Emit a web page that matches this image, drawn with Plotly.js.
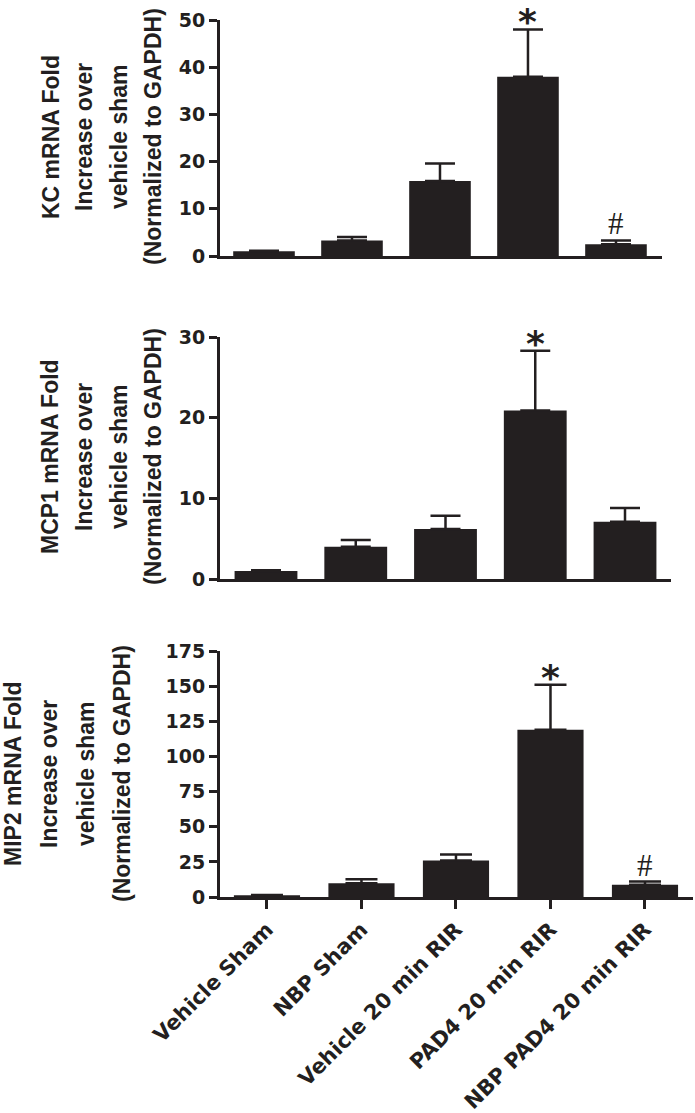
<!DOCTYPE html>
<html>
<head>
<meta charset="utf-8">
<script src="https://cdn.plot.ly/plotly-3.0.1.min.js"></script>
<style>html,body{margin:0;padding:0;background:#fff;}#chart{width:695px;height:1113px;}</style>
</head>
<body>
<div id="chart"></div>
<script>
// ---- data ----
const categories = ['Vehicle Sham', 'NBP Sham', 'Vehicle 20 min RIR', 'PAD4 20 min RIR', 'NBP PAD4 20 min RIR'];

const kcMean = [1.0, 3.3, 15.9, 38.0, 2.5];
const kcSem  = [0.1, 0.7, 3.7, 10.0, 0.8];
const kcSig  = ['', '', '', '*', '#'];
const kcTitle = ['KC mRNA Fold', 'Increase over', 'vehicle sham', '(Normalized to GAPDH)'];
const kcTicks = [0, 10, 20, 30, 40, 50];

const mcpMean = [1.0, 4.0, 6.2, 20.9, 7.1];
const mcpSem  = [0.1, 0.85, 1.65, 7.4, 1.7];
const mcpSig  = ['', '', '', '*', ''];
const mcpTitle = ['MCP1 mRNA Fold', 'Increase over', 'vehicle sham', '(Normalized to GAPDH)'];
const mcpTicks = [0, 10, 20, 30];

const mipMean = [1.2, 9.7, 26.0, 119.0, 8.8];
const mipSem  = [0.2, 3.0, 4.3, 32.0, 2.2];
const mipSig  = ['', '', '', '*', '#'];
const mipTitle = ['MIP2 mRNA Fold', 'Increase over', 'vehicle sham', '(Normalized to GAPDH)'];
const mipTicks = [0, 25, 50, 75, 100, 125, 150, 175];

// ---- styling / layout ----
const INK = '#231f20';
const W = 695, H = 1113;
const px = v => v / W;
const py = v => 1 - v / H;

const panels = [
  {mean: kcMean, sem: kcSem, sig: kcSig, title: kcTitle, ticks: kcTicks,
   xdom: [px(220), px(662)], xr: [-0.5, 4.523], ydom: [py(256), py(20)],
   cap: 15, titleX: [51, 84, 119, 153], titleY: 137, showX: false},
  {mean: mcpMean, sem: mcpSem, sig: mcpSig, title: mcpTitle, ticks: mcpTicks,
   xdom: [px(220), px(671)], xr: [-0.5125, 4.5125], ydom: [py(579), py(337)],
   cap: 15, titleX: [50, 84, 119, 153], titleY: 457, showX: false},
  {mean: mipMean, sem: mipSem, sig: mipSig, title: mipTitle, ticks: mipTicks,
   xdom: [px(220), px(693)], xr: [-0.497, 4.508], ydom: [py(897), py(651)],
   cap: 16, titleX: [13, 49, 86, 122], titleY: 774, showX: true}
];

const traces = [];
const layout = {
  width: W, height: H,
  margin: {l: 0, r: 0, t: 0, b: 0},
  paper_bgcolor: '#ffffff', plot_bgcolor: '#ffffff',
  showlegend: false,
  bargap: 0.3,
  font: {family: 'DejaVu Sans', color: INK},
  annotations: []
};

panels.forEach((p, i) => {
  const n = i === 0 ? '' : String(i + 1);
  traces.push({
    type: 'bar',
    x: categories,
    y: p.mean,
    xaxis: 'x' + n, yaxis: 'y' + n,
    marker: {color: INK, line: {width: 0}},
    error_y: {type: 'data', symmetric: false, array: p.sem,
              arrayminus: p.sem.map(() => 0),
              color: INK, thickness: 2.5, width: p.cap},
    hoverinfo: 'none'
  });
  layout['xaxis' + n] = {
    domain: p.xdom, anchor: 'y' + n, type: 'category',
    range: p.xr, showline: true, linewidth: 3, linecolor: INK,
    showgrid: false, zeroline: false,
    ticks: p.showX ? 'outside' : '', ticklen: 9, tickwidth: 3, tickcolor: INK,
    showticklabels: p.showX, tickangle: -45,
    tickfont: {family: 'DejaVu Sans', size: 21, weight: 'bold', color: INK},
    fixedrange: true
  };
  layout['yaxis' + n] = {
    domain: p.ydom, anchor: 'x' + n,
    range: [0, p.ticks[p.ticks.length - 1]],
    tickvals: p.ticks, ticktext: p.ticks.map(String),
    showline: true, linewidth: 3, linecolor: INK,
    ticks: 'outside', ticklen: 8, tickwidth: 3, tickcolor: INK,
    showgrid: false, zeroline: false,
    tickfont: {family: 'DejaVu Sans', size: 19, weight: 'bold', color: INK},
    fixedrange: true
  };
  // y-axis title lines
  p.title.forEach((t, k) => {
    layout.annotations.push({
      text: t, xref: 'paper', yref: 'paper',
      x: px(p.titleX[k]), y: py(p.titleY),
      xanchor: 'center', yanchor: 'middle', textangle: -90, showarrow: false,
      font: {family: 'Liberation Sans', size: 23, weight: 'bold', color: INK}
    });
  });
  // significance markers
  p.sig.forEach((s, k) => {
    if (!s) return;
    const star = s === '*';
    layout.annotations.push({
      text: s, xref: 'x' + n, yref: 'y' + n,
      x: k, y: p.mean[k] + p.sem[k],
      xanchor: 'center', yanchor: 'bottom', showarrow: false,
      yshift: star ? -15 : -3,
      font: star ? {family: 'DejaVu Sans', size: 36, weight: 'bold', color: INK}
                 : {family: 'Liberation Serif', size: 31, color: INK}
    });
  });
});

Plotly.newPlot('chart', traces, layout, {displayModeBar: false, staticPlot: true});
</script>
</body>
</html>
